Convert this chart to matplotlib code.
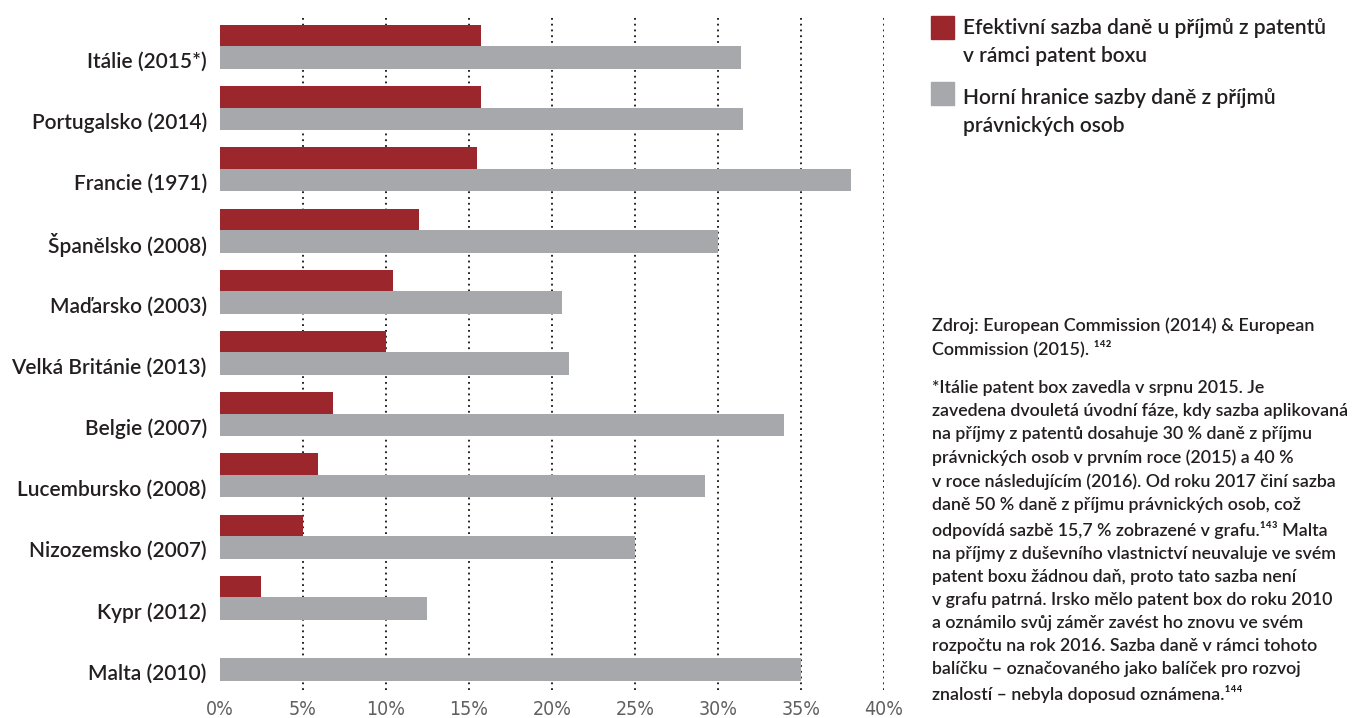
import matplotlib
matplotlib.use("Agg")
import matplotlib.pyplot as plt
from matplotlib.patches import Rectangle
import numpy as np

countries = ["Itálie (2015*)", "Portugalsko (2014)", "Francie (1971)", "Španělsko (2008)",
             "Maďarsko (2003)", "Velká Británie (2013)", "Belgie (2007)", "Lucembursko (2008)",
             "Nizozemsko (2007)", "Kypr (2012)", "Malta (2010)"]
patent_box_rate = [15.7, 15.75, 15.5, 12.0, 10.4, 10.0, 6.8, 5.9, 5.0, 2.5, 0.0]
corporate_rate = [31.4, 31.5, 38.0, 30.0, 20.6, 21.0, 34.0, 29.2, 25.0, 12.5, 35.0]
x_ticks = [0, 5, 10, 15, 20, 25, 30, 35, 40]
x_tick_labels = ["0%", "5%", "10%", "15%", "20%", "25%", "30%", "35%", "40%"]
legend_labels = ["Efektivní sazba daně u příjmů z patentů\nv rámci patent boxu",
                 "Horní hranice sazby daně z příjmů\nprávnických osob"]
source_text = "Zdroj: European Commission (2014) & European\nCommission (2015). \u00b9\u2074\u00b2"
note_text = ("*Itálie patent box zavedla v srpnu 2015. Je\n"
             "zavedena dvouletá úvodní fáze, kdy sazba aplikovaná\n"
             "na příjmy z patentů dosahuje 30 % daně z příjmu\n"
             "právnických osob v prvním roce (2015) a 40 %\n"
             "v roce následujícím (2016). Od roku 2017 činí sazba\n"
             "daně 50 % daně z příjmu právnických osob, což\n"
             "odpovídá sazbě 15,7 % zobrazené v grafu.\u00b9\u2074\u00b3 Malta\n"
             "na příjmy z duševního vlastnictví neuvaluje ve svém\n"
             "patent boxu žádnou daň, proto tato sazba není\n"
             "v grafu patrná. Irsko mělo patent box do roku 2010\n"
             "a oznámilo svůj záměr zavést ho znovu ve svém\n"
             "rozpočtu na rok 2016. Sazba daně v rámci tohoto\n"
             "balíčku – označovaného jako balíček pro rozvoj\n"
             "znalostí – nebyla doposud oznámena.\u00b9\u2074\u2074")

RED = "#9b262c"
GRAY = "#a7a8ac"
TXT = "#231f20"
FAM = ["Lato", "DejaVu Sans"]

W, H = 1357, 718
fig = plt.figure(figsize=(W / 100, H / 100), dpi=100)
ax = fig.add_axes([220 / W, 1 - 690 / H, (884 - 220) / W, (690 - 15) / H])

y = np.arange(len(countries))
h = 0.37
off = 0.175
b1 = ax.barh(y - off, patent_box_rate, height=h, color=RED, zorder=2)
b2 = ax.barh(y + off, corporate_rate, height=h, color=GRAY, zorder=2)

ax.set_xlim(0, 40)
ax.set_ylim(10.507, -0.523)
for xv in x_ticks[1:]:
    ax.axvline(xv, color="#111111", lw=1.3, linestyle=(0, (1.0, 2.2)), zorder=1)

for s in ax.spines.values():
    s.set_visible(False)
ax.set_yticks(y + off + 0.03)
ax.set_yticklabels(countries, fontsize=15, color=TXT, family=FAM, fontweight="semibold")
ax.set_xticks(x_ticks)
ax.set_xticklabels(x_tick_labels, fontsize=14, color="#606060", family="DejaVu Sans",
                   fontstretch="condensed", fontweight="light")
ax.tick_params(axis="both", length=0)
ax.tick_params(axis="y", pad=9.5)
ax.tick_params(axis="x", pad=7)

# legend (manual, to keep swatch aligned with first text line)
leg_items = [(RED, 16, 18, legend_labels[0]), (GRAY, 82, 88, legend_labels[1])]
for col, ytop, ttop, lab in leg_items:
    fig.add_artist(Rectangle((931 / W, 1 - (ytop + 23) / H), 23 / W, 23 / H,
                             transform=fig.transFigure, color=col))
    fig.text(963 / W, 1 - ttop / H, lab, fontsize=15, color=TXT, family=FAM,
             fontweight="semibold", va="top", ha="left", linespacing=1.5)

fig.text(932 / W, 1 - 317 / H, source_text, fontsize=13, color=TXT, family=FAM,
         fontweight="semibold", va="top", ha="left", linespacing=1.42)
fig.text(932 / W, 1 - 380 / H, note_text, fontsize=12.8, color=TXT, family=FAM,
         fontweight="semibold", va="top", ha="left", linespacing=1.54)

fig.savefig("out.png", dpi=100)
